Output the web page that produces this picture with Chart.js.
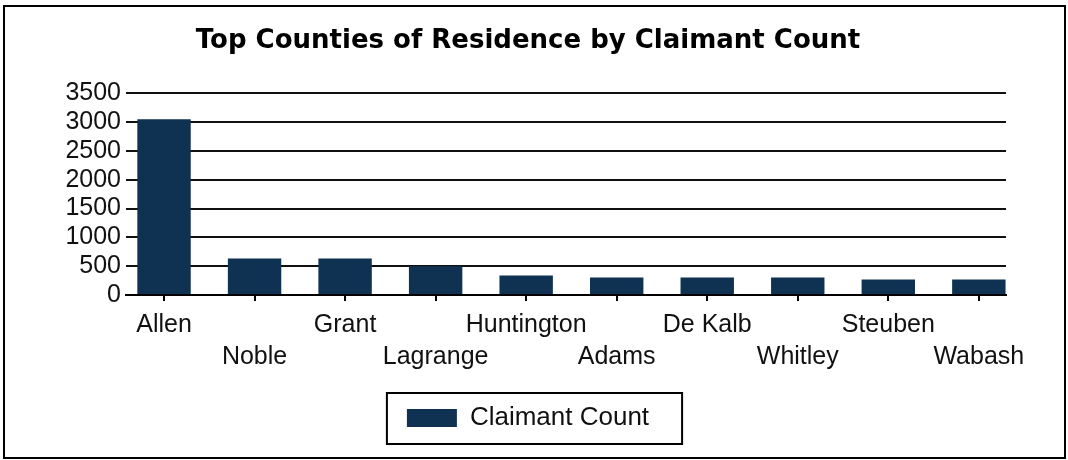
<!DOCTYPE html>
<html>
<head>
<meta charset="utf-8">
<script src="https://cdn.jsdelivr.net/npm/chart.js@4.4.1/dist/chart.umd.min.js"></script>
<style>
  body { margin: 0; background: #fff; }
  #wrap { width: 1068px; height: 460px; }
</style>
</head>
<body>
<div id="wrap"><canvas id="chart"></canvas></div>
<script>
// Counties and claimant counts
var counties = ['Allen', 'Noble', 'Grant', 'Lagrange', 'Huntington', 'Adams', 'De Kalb', 'Whitley', 'Steuben', 'Wabash'];
var claimantCounts = [3050, 635, 635, 500, 340, 305, 305, 305, 270, 270];
var yTicks = [0, 500, 1000, 1500, 2000, 2500, 3000, 3500];

var barColor = '#0f3253';

// Draws the outer frame and the box round the legend
var framePlugin = {
    id: 'frame',
    afterDraw: function(chart) {
        var ctx = chart.ctx;
        ctx.save();
        ctx.strokeStyle = '#000';
        ctx.lineWidth = 2;
        ctx.strokeRect(4, 6, 1061, 452);

        var box = chart.legend.legendHitBoxes[0];
        if (box) {
            ctx.strokeRect(box.left - 20, box.top - 12, box.width + 53, box.height + 25);
        }
        ctx.restore();
    }
};

var ctx = document.getElementById('chart').getContext('2d');
var myChart = new Chart(ctx, {
    type: 'bar',
    data: {
        datasets: [{
            label: 'Claimant Count',
            data: claimantCounts.map(function(v, i) { return {x: i, y: v}; }),
            backgroundColor: barColor,
            borderWidth: 0,
            categoryPercentage: 1,
            barPercentage: 0.59
        }]
    },
    options: {
        responsive: true,
        maintainAspectRatio: false,
        animation: false,
        layout: {
            padding: {left: 4, right: 16, top: 6, bottom: 19}
        },
        plugins: {
            tooltip: {enabled: false},
            title: {
                display: true,
                text: 'Top Counties of Residence by Claimant Count',
                color: '#000',
                font: {family: 'DejaVu Sans', size: 26, weight: 'bold', lineHeight: 1.2},
                padding: {top: 20, bottom: 36}
            },
            legend: {
                position: 'bottom',
                labels: {
                    color: '#111',
                    font: {family: 'Liberation Sans', size: 26},
                    boxWidth: 50,
                    boxHeight: 18,
                    padding: 20
                }
            }
        },
        scales: {
            x: {
                type: 'linear',
                offset: false,
                min: -0.42,
                max: 9.3,
                afterBuildTicks: function(axis) {
                    axis.ticks = counties.map(function(c, i) { return {value: i}; });
                },
                afterFit: function(scale) {
                    scale.height = scale.height + 4;
                },
                grid: {
                    offset: false,
                    drawOnChartArea: false,
                    drawTicks: true,
                    tickLength: 6,
                    color: '#000',
                    lineWidth: 2
                },
                border: {display: true, color: '#000', width: 2},
                ticks: {
                    color: '#111',
                    maxRotation: 0,
                    autoSkip: false,
                    padding: 8,
                    font: {family: 'Liberation Sans', size: 25, lineHeight: 1.28},
                    callback: function(value) {
                        var name = counties[value];
                        return value % 2 === 0 ? [name, ''] : ['', name];
                    }
                }
            },
            y: {
                min: 0,
                max: 3500,
                afterBuildTicks: function(axis) {
                    axis.ticks = yTicks.map(function(v) { return {value: v}; });
                },
                afterFit: function(scale) {
                    scale.width = 122;
                },
                grid: {
                    drawTicks: false,
                    color: '#111',
                    lineWidth: 2
                },
                border: {display: false},
                ticks: {
                    color: '#111',
                    padding: 5,
                    autoSkip: false,
                    font: {family: 'Liberation Sans', size: 25},
                    callback: function(value) { return String(value); }
                }
            },
            // empty right axis, only keeps room so the title and legend stay centred
            y2: {
                position: 'right',
                display: true,
                afterFit: function(scale) {
                    scale.width = 46;
                },
                grid: {drawOnChartArea: false, drawTicks: false},
                border: {display: false},
                ticks: {display: false}
            }
        }
    },
    plugins: [framePlugin]
});
</script>
</body>
</html>
